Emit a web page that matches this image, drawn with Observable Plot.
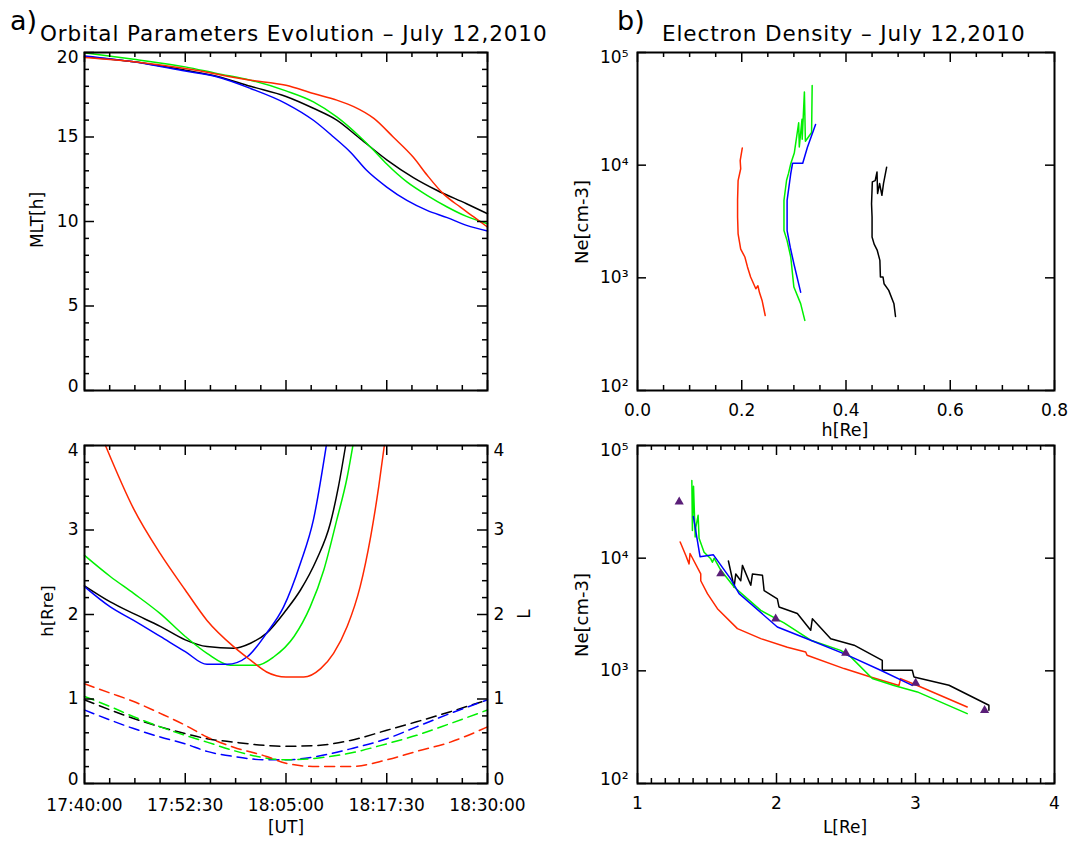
<!DOCTYPE html>
<html><head><meta charset="utf-8">
<script src="https://cdn.jsdelivr.net/npm/d3@7"></script>
<script src="https://cdn.jsdelivr.net/npm/@observablehq/plot@0.6"></script>
<style>
body{margin:0;background:#fff;}
#root{position:relative;width:1069px;height:842px;overflow:hidden;font-family:"DejaVu Sans",sans-serif;color:#000;background:#fff;}
.panel{position:absolute;}
.lbl{position:absolute;white-space:nowrap;line-height:1;}
</style></head><body><div id="root"></div>
<script>
// ---------- tick labels ----------
const xTickMin = [0, 12.5, 25, 37.5, 50];           // minutes after 17:40:00
const xTickLabels = ["17:40:00","17:52:30","18:05:00","18:17:30","18:30:00"];
const mltTicks = [0, 5, 10, 15, 20];
const hlTicks = [0, 1, 2, 3, 4];
const hTicks = [0.0, 0.2, 0.4, 0.6, 0.8];
const hTickLabels = ["0.0","0.2","0.4","0.6","0.8"];
const lTicks = [1, 2, 3, 4];
const neTicks = [1e2, 1e3, 1e4, 1e5];
const neTickLabels = ["10²","10³","10⁴","10⁵"];

// ---------- panel a (top): MLT vs time (minutes after 17:40) ----------
const mltBlackT = [0, 6.1, 12.5, 16.4, 20.6, 25, 28.4, 31.3, 34.2, 37.5, 40.8, 43.7, 47.4, 50];
const mltBlack  = [19.75, 19.45, 18.95, 18.6, 18.0, 17.4, 16.7, 16.0, 14.9, 13.65, 12.6, 11.85, 11.05, 10.46];
const mltRedT = [0, 6.1, 12.5, 20.6, 25, 28.4, 31.3, 33.4, 35.9, 38.3, 40.8, 42.5, 44.5, 46.6, 48.3, 50];
const mltRed  = [19.7, 19.45, 19.05, 18.36, 18.06, 17.57, 17.18, 16.8, 16.1, 15.0, 13.8, 12.75, 11.65, 10.86, 10.27, 9.67];
const mltGreenT = [0, 6.1, 12.5, 16.4, 20.6, 25, 28.4, 31.3, 34.2, 35.9, 37.5, 40, 42.5, 45, 47.4, 50];
const mltGreen  = [19.98, 19.6, 19.15, 18.76, 18.36, 17.73, 17.08, 16.19, 15.0, 14.2, 13.4, 12.34, 11.55, 10.86, 10.3, 9.87];
const mltBlueT = [0, 6.1, 12.5, 16.4, 20.6, 25, 28.4, 30.9, 33, 35, 37.5, 40, 42.5, 45, 47.4, 50];
const mltBlue  = [19.8, 19.45, 18.9, 18.56, 17.87, 16.98, 15.99, 15.0, 14.1, 13.03, 12.04, 11.25, 10.66, 10.23, 9.77, 9.44];

// ---------- panel a (bottom): solid curves ----------
const solBlackT = [0, 3.2, 6.1, 9.4, 12.5, 15.2, 18.5, 20.6, 22.6, 25, 26.8, 28.8, 30.5, 31.5, 32.4];
const solBlack  = [2.34, 2.15, 2.01, 1.86, 1.70, 1.62, 1.60, 1.66, 1.78, 2.05, 2.29, 2.65, 3.08, 3.51, 4.0];
const solRedT = [2.6, 6.1, 9.4, 12.5, 15.2, 18.5, 20.6, 22.6, 25, 27.2, 29.3, 30.9, 32.6, 34.2, 35.5, 36.5, 37.2];
const solRed  = [4.0, 3.25, 2.72, 2.29, 1.93, 1.62, 1.46, 1.32, 1.26, 1.26, 1.36, 1.54, 1.86, 2.33, 2.92, 3.51, 4.0];
const solGreenT = [0, 3.2, 6.1, 9.4, 12.5, 15.2, 18.1, 21.4, 23.5, 26, 28, 29.7, 31.3, 32.6, 33.3];
const solGreen  = [2.70, 2.45, 2.25, 2.01, 1.74, 1.54, 1.40, 1.40, 1.50, 1.74, 2.09, 2.53, 3.12, 3.63, 4.0];
const solBlueT = [0, 3.2, 6.1, 9.4, 12.5, 15.2, 17.7, 20.2, 22.6, 24.7, 26.8, 28.4, 30];
const solBlue  = [2.33, 2.09, 1.93, 1.74, 1.56, 1.41, 1.41, 1.50, 1.78, 2.09, 2.61, 3.12, 4.0];

// ---------- panel a (bottom): dashed curves ----------
const dashT = [0, 3.2, 6.1, 9.4, 12.5, 15.2, 18.5, 22.6, 25, 28.8, 33, 37.5, 41.2, 45.4, 50];
const dashBlack = [0.99, 0.87, 0.77, 0.67, 0.59, 0.53, 0.49, 0.45, 0.44, 0.45, 0.51, 0.63, 0.73, 0.85, 0.99];
const dashRed   = [1.18, 1.07, 0.97, 0.83, 0.69, 0.55, 0.43, 0.32, 0.24, 0.20, 0.20, 0.28, 0.38, 0.49, 0.67];
const dashGreen = [1.03, 0.91, 0.79, 0.67, 0.57, 0.49, 0.39, 0.30, 0.28, 0.30, 0.36, 0.47, 0.57, 0.71, 0.87];
const dashBlue  = [0.87, 0.75, 0.65, 0.55, 0.47, 0.38, 0.32, 0.28, 0.28, 0.32, 0.41, 0.53, 0.67, 0.83, 0.99];

// ---------- panel b (top): Ne vs h ----------
const nhRedH = [0.201, 0.197, 0.198, 0.193, 0.192, 0.192, 0.193, 0.198, 0.206, 0.211, 0.217, 0.227, 0.231, 0.234, 0.239, 0.245];
const nhRed  = [14200, 11000, 9300, 7300, 4900, 3470, 2460, 1800, 1530, 1250, 1017, 800, 850, 740, 630, 463];
const nhGreenH = [0.321, 0.313, 0.300, 0.294, 0.287, 0.281, 0.281, 0.286, 0.2897, 0.2943, 0.3008, 0.3092, 0.3104, 0.3156, 0.3160, 0.3202, 0.3221, 0.3340, 0.3351];
const nhGreen  = [419, 590, 828, 1530, 2140, 2630, 4870, 7350, 8450, 10400, 12800, 23800, 14500, 25500, 17000, 44700, 16300, 19500, 51000];
const nhBlueH = [0.313, 0.300, 0.293, 0.287, 0.287, 0.294, 0.2975, 0.317, 0.326, 0.3416];
const nhBlue  = [746, 1334, 1870, 2630, 4870, 8400, 10400, 10400, 14400, 23000];
const nhBlackH = [0.495, 0.492, 0.482, 0.473, 0.471, 0.466, 0.465, 0.460, 0.454, 0.450, 0.450, 0.449, 0.4505, 0.456, 0.4595, 0.4606, 0.4645, 0.4689, 0.472, 0.478];
const nhBlack  = [454, 588, 774, 887, 1017, 1017, 1430, 1750, 1990, 2300, 3470, 4550, 7100, 7300, 8700, 5600, 6860, 5400, 6900, 9600];

// ---------- panel b (bottom): Ne vs L ----------
const nlRedL = [1.307, 1.347, 1.371, 1.378, 1.455, 1.455, 1.503, 1.575, 1.719, 1.887, 2.078, 2.21, 2.22, 2.486, 2.677, 2.881, 2.893, 3.013, 3.372];
const nlRed  = [13900, 10600, 8900, 11000, 7250, 6300, 4840, 3560, 2370, 1930, 1620, 1470, 1375, 1047, 883, 742, 853, 742, 478];
const nlGreenL = [1.391, 1.395, 1.403, 1.415, 1.42, 1.436, 1.443, 1.479, 1.527, 1.539, 1.551, 1.60, 1.695, 1.887, 2.054, 2.246, 2.462, 2.534, 2.689, 2.845, 3.013, 3.372];
const nlGreen  = [49000, 17600, 43500, 15400, 18900, 24000, 15000, 11300, 9870, 9200, 10000, 7800, 5550, 3440, 2660, 1870, 1520, 1330, 855, 742, 650, 417];
const nlBlueL = [1.402, 1.45, 1.546, 1.67, 1.731, 2.006, 2.246, 2.510, 2.749, 2.977];
const nlBlue  = [23400, 10300, 10700, 6550, 4840, 2450, 1870, 1380, 1012, 742];
const nlBlackL = [1.654, 1.695, 1.707, 1.743, 1.755, 1.815, 1.827, 1.899, 1.911, 2.006, 2.018, 2.150, 2.246, 2.258, 2.390, 2.558, 2.761, 2.761, 2.977, 2.989, 3.241, 3.528, 3.528];
const nlBlack  = [9440, 5550, 7240, 6300, 8630, 5740, 7240, 7050, 5150, 4360, 3690, 3230, 2290, 2900, 1930, 1690, 1240, 1012, 1012, 883, 745, 495, 447];
const modelL  = [1.30, 1.599, 1.994, 2.498, 3.001, 3.497];
const modelNe = [31600, 7280, 2900, 1440, 780, 447];

// ---------- helpers ----------
const BLACK = "#000000", RED = "#ff2800", GREEN = "#00f000", BLUE = "#0000ff", PURPLE = "#5a1e78";
const T0 = Date.UTC(2010, 6, 12, 17, 40);
const toDate = m => new Date(T0 + m * 60000);
const pts = (xs, ys, fx = v => v) => xs.map((x, i) => ({x: fx(x), y: ys[i]}));
const xTickDates = xTickMin.map(toDate);
const xMinorDates = d3.range(0, 50.001, 3.125).filter(m => Math.abs(m % 12.5) > 1e-6).map(toDate);
const baseStyle = {fontFamily: "DejaVu Sans, sans-serif", fontSize: "17px", overflow: "visible", background: "transparent", color: "#000"};
const FS = 17;
const W1 = 403, H1 = 338, W2 = 417;

// inward frame ticks, drawn last so nothing can cover them
function ticksX(values, H, len) {
  return [
    Plot.ruleX(values, {x: d => d, insetTop: H - len, stroke: "#000", strokeWidth: 1.5}),
    Plot.ruleX(values, {x: d => d, insetBottom: H - len, stroke: "#000", strokeWidth: 1.5})
  ];
}
function ticksY(values, W, len) {
  return [
    Plot.ruleY(values, {y: d => d, insetRight: W - len, stroke: "#000", strokeWidth: 1.5}),
    Plot.ruleY(values, {y: d => d, insetLeft: W - len, stroke: "#000", strokeWidth: 1.5})
  ];
}
// y tick labels: IDL pulls the two end labels slightly inside the axis range
function yLabels(ticks, fmt, anchor = "left", pad = 6) {
  const n = ticks.length;
  const o = {anchor, tickSize: 0, tickPadding: pad, label: null, fontSize: FS, tickFormat: fmt};
  return [
    Plot.axisY({...o, ticks: ticks.slice(1, n - 1)}),
    Plot.axisY({...o, ticks: [ticks[n - 1]], dy: 5}),
    Plot.axisY({...o, ticks: [ticks[0]], dy: -4})
  ];
}
const drawLine = (data, stroke, extra = {}) => Plot.line(data, {x: "x", y: "y", stroke, strokeWidth: 1.5, ...extra});
const smooth = (data, stroke, extra = {}) => drawLine(data, stroke, {curve: "monotone-x", ...extra});

const root = document.getElementById("root");
function place(svg, left, top) {
  const d = document.createElement("div");
  d.className = "panel"; d.style.left = left + "px"; d.style.top = top + "px";
  d.appendChild(svg); root.appendChild(d);
}
function addLabel(text, x, baseline, size, anchor = "start", extra = "") {
  const d = document.createElement("div");
  d.className = "lbl"; d.textContent = text;
  d.style.fontSize = size + "px";
  d.style.top = (baseline - 0.846 * size) + "px";
  d.style.left = x + "px";
  if (anchor === "middle") d.style.transform = "translateX(-50%)";
  d.style.cssText += extra;
  root.appendChild(d);
}
function addVLabel(text, cx, cy, size) {
  const d = document.createElement("div");
  d.className = "lbl"; d.textContent = text;
  d.style.fontSize = size + "px";
  d.style.left = cx + "px"; d.style.top = cy + "px";
  d.style.transform = "translate(-50%,-50%) rotate(-90deg)";
  root.appendChild(d);
}

// ---------- top-left ----------
place(Plot.plot({
  width: 534, height: 421, marginLeft: 84, marginRight: 47, marginTop: 52, marginBottom: 31,
  style: baseStyle,
  x: {type: "utc", domain: [toDate(0), toDate(50)], axis: null},
  y: {domain: [0, 20]},
  marks: [
    smooth(pts(mltBlackT, mltBlack, toDate), BLACK),
    smooth(pts(mltGreenT, mltGreen, toDate), GREEN),
    smooth(pts(mltBlueT, mltBlue, toDate), BLUE),
    smooth(pts(mltRedT, mltRed, toDate), RED),
    ...yLabels(mltTicks, d => String(d)),
    Plot.frame({stroke: "#000", strokeWidth: 2}),
    ...ticksX(xTickDates, H1, 10), ...ticksX(xMinorDates, H1, 5),
    ...ticksY(mltTicks, W1, 10), ...ticksY(d3.range(0, 21, 1).filter(v => v % 5), W1, 5)
  ]
}), 0, 0);

// ---------- bottom-left ----------
const dashOpt = {strokeDasharray: "10,6"};
place(Plot.plot({
  width: 534, height: 421, marginLeft: 84, marginRight: 47, marginTop: 24, marginBottom: 59,
  style: baseStyle,
  x: {type: "utc", domain: [toDate(0), toDate(50)]},
  y: {domain: [0, 4]},
  marks: [
    smooth(pts(dashT, dashBlack, toDate), BLACK, dashOpt),
    smooth(pts(dashT, dashBlue, toDate), BLUE, dashOpt),
    smooth(pts(dashT, dashGreen, toDate), GREEN, dashOpt),
    smooth(pts(dashT, dashRed, toDate), RED, dashOpt),
    smooth(pts(solBlackT, solBlack, toDate), BLACK),
    smooth(pts(solGreenT, solGreen, toDate), GREEN),
    smooth(pts(solBlueT, solBlue, toDate), BLUE),
    smooth(pts(solRedT, solRed, toDate), RED),
    Plot.axisX({ticks: xTickDates, tickSize: 0, tickPadding: 15.5, label: null, fontSize: FS,
      tickFormat: d => xTickLabels[xTickDates.findIndex(t => +t === +d)]}),
    ...yLabels(hlTicks, d => String(d), "left"),
    ...yLabels(hlTicks, d => String(d), "right"),
    Plot.frame({stroke: "#000", strokeWidth: 2}),
    ...ticksX(xTickDates, H1, 10), ...ticksX(xMinorDates, H1, 5),
    ...ticksY(hlTicks, W1, 10), ...ticksY(d3.range(0, 4.001, 0.2).filter(v => Math.abs(v - Math.round(v)) > 1e-6), W1, 5)
  ]
}), 0, 421);

// ---------- top-right ----------
const hMinor = d3.range(0, 0.8001, 0.05).filter(v => Math.abs(v / 0.2 - Math.round(v / 0.2)) > 1e-6);
const neFmt = d => neTickLabels[neTicks.indexOf(d)];
place(Plot.plot({
  width: 535, height: 421, marginLeft: 103, marginRight: 15, marginTop: 52, marginBottom: 31,
  style: baseStyle,
  x: {domain: [0, 0.8]},
  y: {type: "log", domain: [1e2, 1e5]},
  marks: [
    drawLine(pts(nhRedH, nhRed), RED),
    drawLine(pts(nhGreenH, nhGreen), GREEN),
    drawLine(pts(nhBlueH, nhBlue), BLUE),
    drawLine(pts(nhBlackH, nhBlack), BLACK),
    Plot.axisX({ticks: hTicks, tickSize: 0, tickPadding: 13.5, label: null, fontSize: FS,
      tickFormat: d => hTickLabels[hTicks.indexOf(d)]}),
    ...yLabels(neTicks, neFmt, "left", 9),
    Plot.frame({stroke: "#000", strokeWidth: 2}),
    ...ticksX(hTicks, H1, 10), ...ticksX(hMinor, H1, 5),
    ...ticksY(neTicks, W2, 9)
  ]
}), 534, 0);

// ---------- bottom-right ----------
const lMinor = d3.range(1, 4.001, 0.1).filter(v => Math.abs(v - Math.round(v)) > 1e-6);
place(Plot.plot({
  width: 535, height: 421, marginLeft: 103, marginRight: 15, marginTop: 24, marginBottom: 59,
  style: baseStyle,
  x: {domain: [1, 4]},
  y: {type: "log", domain: [1e2, 1e5]},
  marks: [
    drawLine(pts(nlRedL, nlRed), RED),
    drawLine(pts(nlBlackL, nlBlack), BLACK),
    drawLine(pts(nlGreenL, nlGreen), GREEN),
    drawLine(pts(nlBlueL, nlBlue), BLUE),
    Plot.dot(pts(modelL, modelNe), {x: "x", y: "y", symbol: "triangle", r: 3.4, fill: PURPLE, stroke: "none"}),
    Plot.axisX({ticks: lTicks, tickSize: 0, tickPadding: 13.5, label: null, fontSize: FS, tickFormat: d => String(d)}),
    ...yLabels(neTicks, neFmt, "left", 9),
    Plot.frame({stroke: "#000", strokeWidth: 2}),
    ...ticksX(lTicks, H1, 10), ...ticksX(lMinor, H1, 5),
    ...ticksY(neTicks, W2, 9)
  ]
}), 534, 421);

// ---------- titles and axis titles ----------
addLabel("a)", 10, 30, 27);
addLabel("Orbital Parameters Evolution – July 12,2010", 40, 41, 21.5, "start", "letter-spacing:0.9px;");
addLabel("b)", 617, 30, 27);
addLabel("Electron Density – July 12,2010", 662, 41, 21.5, "start", "letter-spacing:0.9px;");
addVLabel("MLT[h]", 37, 220, 17);
addVLabel("h[Rre]", 48, 611, 16.5);
addVLabel("L", 524, 614, 17);
addLabel("[UT]", 286, 833, 17, "middle");
addLabel("h[Re]", 845, 437, 17.5, "middle");
addLabel("L[Re]", 845, 833, 17, "middle");
addVLabel("Ne[cm-3]", 582, 222, 18);
addVLabel("Ne[cm-3]", 582, 615, 18);
</script></body></html>
